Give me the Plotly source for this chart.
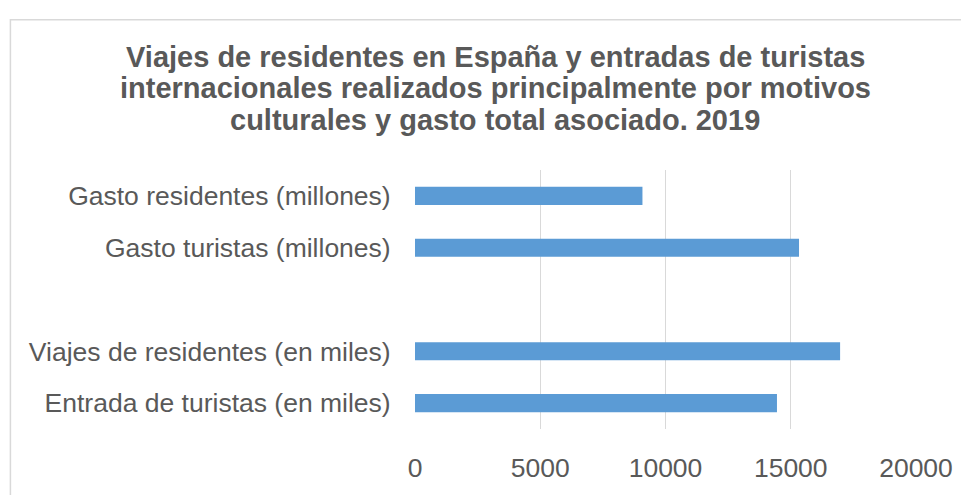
import plotly.graph_objects as go

categories = [
    "Entrada de turistas (en miles)",
    "Viajes de residentes (en miles)",
    " ",
    "Gasto turistas (millones)",
    "Gasto residentes (millones)",
]
values = [14450, 16970, None, 15330, 9080]
x_ticks = [0, 5000, 10000, 15000, 20000]

title_lines = [
    "Viajes de residentes en España y entradas de turistas",
    "internacionales realizados principalmente por motivos",
    "culturales y gasto total asociado. 2019",
]

OFF = 8  # page body margin
W, H = 969 - OFF, 495 - OFF
L, R, T, B = 414.5 - OFF, 53, 170 - OFF, 57
pw, ph = W - L - R, H - T - B


def px_x(x_ref):
    return (x_ref - OFF - L) / pw


def px_y(y_ref):
    return (H - B - (y_ref - OFF)) / ph


fig = go.Figure(go.Bar(
    y=categories, x=values, orientation="h",
    marker=dict(color="#5b9bd5", line=dict(width=0)),
    width=0.35,
))

fig.update_layout(
    width=W, height=H,
    margin=dict(l=L, r=R, t=T, b=B, pad=0),
    paper_bgcolor="white", plot_bgcolor="white",
    font=dict(family="Liberation Sans, Arial, sans-serif", color="#595959"),
    showlegend=False,
    xaxis=dict(range=[0, 20000], tickvals=x_ticks, tickformat="d", showgrid=True,
               gridcolor="#d9d9d9", gridwidth=1.3, zeroline=False,
               showline=False, ticks="outside", ticklen=15,
               tickcolor="rgba(0,0,0,0)", tickfont=dict(size=26.5, color="#595959")),
    yaxis=dict(type="category", categoryorder="array", categoryarray=categories,
               range=[-0.5, 4.5], showgrid=False, zeroline=False, showline=False,
               ticks="outside", ticklen=18, tickcolor="rgba(0,0,0,0)",
               tickfont=dict(size=26.5, color="#595959")),
)

for line, yc in zip(title_lines, [53, 85.5, 118]):
    fig.add_annotation(text="<b>" + line + "</b>", xref="paper", yref="paper",
                       x=px_x(495), y=px_y(yc), xanchor="center", yanchor="middle",
                       showarrow=False, font=dict(size=29, color="#595959"))

# outer chart border
fig.add_shape(type="rect", xref="paper", yref="paper",
              x0=px_x(9.5), x1=px_x(995), y0=px_y(520), y1=px_y(14.5),
              line=dict(color="#d9d9d9", width=1.5), fillcolor="rgba(0,0,0,0)",
              layer="below")

fig.write_html("out.html")
